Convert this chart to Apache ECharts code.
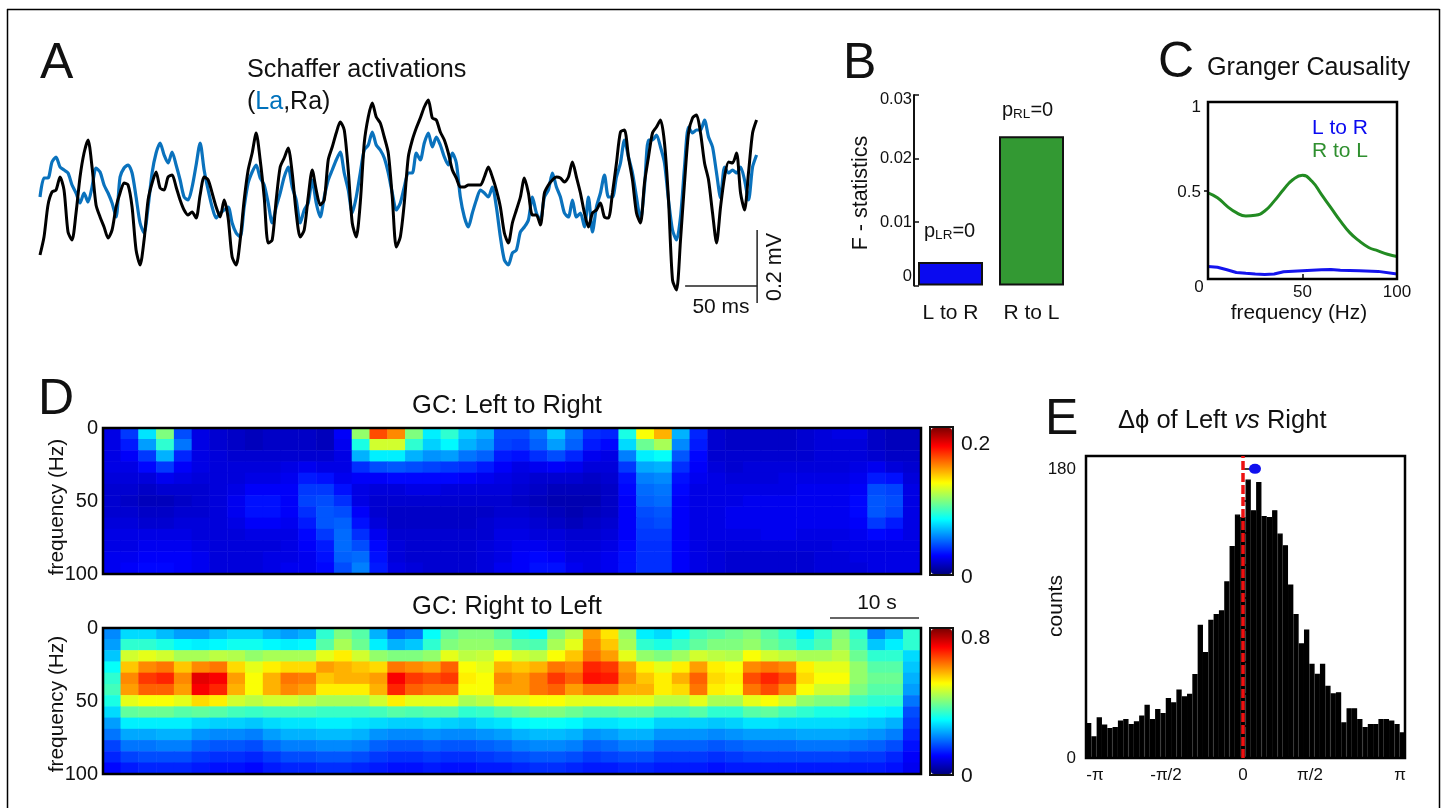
<!DOCTYPE html>
<html><head><meta charset="utf-8">
<style>html,body{margin:0;padding:0;background:#fff}#c{width:1444px;height:808px}</style>
<script src="https://cdn.jsdelivr.net/npm/echarts@6/dist/echarts.min.js"></script>
</head><body><div id="c"></div>
<script>
// ---- Panel A: traces, one reading every traceStepMs; amplitude in trace units (traceUnitsPerMv units = 1 mV)
const traceStepMs = 2.78;
const traceUnitsPerMv = 365;
const rightTrace = [49,67,99,112,114,127,114,72,64,91,127,151,164,137,99,87,77,66,74,97,111,121,119,97,54,39,64,104,121,132,116,114,127,129,117,104,94,89,92,86,109,127,124,111,97,
87,104,86,47,39,64,104,134,151,171,144,107,61,64,104,137,146,156,131,91,67,74,107,134,114,99,104,144,157,171,182,174,134,81,67,101,161,187,201,187,181,167,151,107,57,
67,101,147,164,176,186,197,204,186,184,172,164,151,134,126,117,117,119,119,119,119,127,137,127,114,97,71,61,81,94,107,126,111,89,89,79,111,119,124,127,126,122,127,142,127,
111,91,77,91,94,101,87,86,111,141,172,174,147,124,91,81,121,147,171,177,184,161,104,24,14,64,121,171,186,189,171,141,124,91,61,97,127,142,141,151,111,94,132,171,184];
const leftTrace = [107,126,126,142,147,137,134,131,119,111,101,111,102,117,136,132,119,111,101,87,127,136,139,131,107,81,71,97,131,151,161,149,141,152,139,124,107,104,117,139,161,134,114,97,86,
91,94,97,81,71,67,97,121,132,139,126,119,101,81,97,111,127,137,117,104,81,94,101,124,101,87,107,124,134,144,152,131,114,91,107,131,154,159,172,159,154,146,131,111,94,
101,117,131,131,151,144,161,171,157,167,159,147,139,151,141,107,87,77,91,104,114,111,107,117,97,67,44,39,51,54,72,77,84,107,91,84,107,114,131,117,107,91,87,104,87,
91,77,107,72,97,111,129,107,107,127,141,164,147,131,107,84,117,164,164,169,157,141,104,74,64,87,137,177,171,174,174,184,167,157,131,106,137,131,134,131,137,124,104,137,149];
const scaleBarMs = 50;
const scaleBarMv = 0.2;

// ---- Panel B
const bCategories = ['L to R','R to L'];
const bValues = [0.0037,0.0235];
const bColors = ['#0a0af0','#339933'];

// ---- Panel C: Granger causality spectra
const greenFreq = [0,5,10,15,20,25,30,35,40,45,50,55,60,65,70,75,80,85,90,95,100];
const greenGc = [.487,.459,.412,.375,.356,.36,.384,.44,.506,.562,.586,.552,.478,.403,.328,.262,.215,.178,.159,.14,.127];
const blueFreq = [0,5,10,15,20,25,30,35,40,50,60,65,70,80,90,100];
const blueGc = [.071,.066,.052,.037,.032,.028,.026,.028,.041,.047,.052,.054,.049,.047,.043,.028];

// ---- Panel D: percent of each colour bar's range, rows from 0 Hz down to 100 Hz
const lrMax = 0.228;
const rlMax = 0.865;
const lrRows = [
[10,18,35,50,20,10,8,7,6,7,7,7,6,12,52,80,74,50,36,42,33,30,20,20,24,32,24,17,16,40,62,70,30,16,8,7,7,7,7,8,9,10,10,7,6,6],
[10,15,28,42,24,10,8,7,6,7,7,7,6,11,40,58,58,42,33,37,30,27,19,18,22,28,22,15,13,34,48,54,26,15,8,7,7,7,7,8,9,9,9,7,6,6],
[10,12,18,30,16,10,9,8,8,8,8,8,8,10,30,36,36,30,27,28,24,22,15,14,17,20,16,11,10,25,36,38,21,13,8,8,8,8,8,8,9,9,9,8,7,7],
[10,10,13,18,12,10,9,9,9,9,10,11,10,10,17,20,21,20,19,18,17,15,12,10,11,12,11,9,9,18,29,30,17,12,9,8,9,9,9,9,9,9,10,11,9,8],
[9,9,9,11,10,9,9,9,10,10,11,15,14,11,12,12,13,13,13,13,12,11,10,9,8,8,8,7,8,14,25,26,14,11,10,9,9,9,10,10,10,10,11,15,14,9],
[8,8,7,8,8,8,9,10,12,12,12,18,18,14,10,9,9,10,10,9,9,9,9,8,7,6,6,6,7,13,23,24,13,10,10,10,10,10,10,11,11,11,12,20,19,10],
[8,7,6,6,7,8,9,11,14,14,12,19,20,17,10,8,8,8,8,8,8,8,8,7,6,5,5,5,7,12,22,23,12,10,10,10,11,11,11,11,11,11,13,21,20,10],
[8,8,7,7,8,8,9,11,14,14,12,17,21,20,12,8,7,7,7,7,7,7,8,8,7,6,5,6,7,12,20,21,12,10,10,11,11,11,11,11,11,11,13,21,19,10],
[9,9,8,8,9,9,9,10,12,12,11,15,21,22,14,9,7,7,7,7,7,8,9,9,8,7,6,7,8,12,19,20,12,10,10,11,11,11,11,11,11,11,12,18,15,10],
[10,10,10,10,10,9,9,9,10,10,10,13,18,23,17,11,8,8,8,8,8,8,10,10,9,9,8,8,9,12,18,18,12,10,10,10,10,11,11,10,10,10,11,13,12,10],
[10,10,11,11,11,10,9,9,9,9,10,12,15,23,20,13,9,8,8,8,8,9,10,11,11,10,9,9,10,13,17,17,12,10,9,9,9,9,9,9,9,10,10,10,10,10],
[11,11,12,12,12,11,9,9,9,10,10,11,14,22,23,14,9,8,8,8,8,9,10,12,13,12,10,10,11,14,17,17,12,10,9,8,8,8,8,8,9,9,10,10,10,10],
[11,12,13,13,12,11,9,9,9,10,11,11,13,20,25,15,10,9,8,8,8,9,11,12,14,14,11,10,11,14,17,17,12,10,9,8,8,8,8,8,9,9,9,10,10,10]];
const rlRows = [
[26,34,34,31,28,28,31,33,33,30,28,30,42,50,46,30,22,24,38,47,50,50,46,40,38,50,55,72,65,52,36,34,38,44,46,48,50,46,42,36,42,50,42,25,30,42],
[28,42,42,40,37,36,37,39,39,37,36,37,46,54,48,36,30,32,42,50,52,52,50,46,45,54,60,74,68,54,42,40,43,47,50,50,52,48,45,41,45,52,44,32,36,42],
[32,58,60,58,54,54,56,55,52,54,54,54,60,64,58,52,50,50,52,60,56,57,62,58,56,62,68,76,72,60,52,50,53,58,56,55,62,58,56,54,54,56,48,42,42,34],
[38,68,74,76,68,74,76,66,60,64,66,66,72,70,68,66,76,74,72,78,62,60,70,68,70,76,74,84,82,72,64,60,64,72,64,62,74,76,74,64,60,60,52,46,46,32],
[42,74,82,84,74,90,88,72,62,70,76,75,68,70,70,72,88,82,80,82,64,62,74,72,76,82,78,86,85,74,68,64,70,78,66,64,80,84,80,66,62,62,52,48,48,30],
[44,72,78,78,72,88,84,70,62,70,74,72,64,64,64,70,84,78,76,76,62,62,72,72,76,78,72,76,76,70,70,64,66,76,64,62,76,80,74,62,58,58,50,46,46,28],
[40,60,62,62,60,66,64,58,56,58,58,56,54,54,54,58,64,60,60,60,54,56,60,60,62,62,60,60,60,60,60,56,56,60,54,54,60,62,58,52,50,50,44,42,42,24],
[34,47,48,48,46,47,46,44,43,44,44,44,43,43,43,44,46,45,46,46,42,43,46,48,50,50,48,46,46,47,47,44,44,46,42,42,46,47,44,42,40,40,38,37,36,20],
[28,36,36,36,36,34,33,33,32,34,35,35,36,36,35,34,33,33,34,33,32,34,35,37,38,38,37,35,35,36,36,33,33,33,32,33,35,35,34,34,34,34,33,32,30,18],
[24,29,29,30,30,27,26,26,25,28,30,30,31,31,30,27,26,26,27,26,26,27,28,30,31,31,30,27,28,30,30,27,27,27,26,27,28,28,28,29,29,29,28,27,25,16],
[19,24,24,25,25,22,21,21,20,23,25,25,26,26,25,22,21,21,22,21,21,22,23,25,26,26,25,22,23,25,25,22,22,22,21,22,23,23,23,24,24,24,23,22,20,14],
[16,19,20,20,20,18,17,17,16,18,20,20,21,21,20,18,17,17,18,17,17,18,19,20,21,21,20,18,19,20,20,18,18,18,17,18,19,19,19,19,19,19,18,18,16,12],
[13,15,16,16,16,15,14,14,13,15,16,16,17,17,16,15,14,14,15,14,14,15,15,16,17,17,16,15,15,16,16,15,15,15,14,15,15,15,15,15,15,15,15,15,14,11]];
const jet = ['#00007f','#0000ff','#007fff','#00ffff','#7fff7f','#ffff00','#ff7f00','#ff0000','#7f0000'];

// ---- Panel E: phase difference histogram
const phaseCounts = [21.8,13.5,25.3,20.8,18.7,19.3,23.3,24.3,21.2,22.8,26.4,33.2,24.3,30.5,28,37.4,34.7,42.6,38.4,40,52.3,83,66,86,89.7,92,110,132,151.6,150,173.4,154.3,171.8,150.6,150,154.3,139.8,132.5,108,89.7,71.4,80,58.6,52.5,58.6,45,40.3,41,22.2,31,31,24.3,19.3,21.2,21.2,24.3,24.3,23.3,21.2,16];
const phaseTickPos = [-2.96,-1.54,0,1.34,3.14];
const phaseTickLabels = ['-π','-π/2','0','π/2','π'];
const meanPhase = [[0.24,180]];

// ---- build
const FF = '"Liberation Sans",Arial,sans-serif';
const cellData = (rows,max)=>rows.flatMap((r,j)=>r.map((v,i)=>[i,j,v/100*max]));
const idx = n=>Array.from({length:n},(_,i)=>String(i));
const traceData = a=>a.map((v,i)=>[i*traceStepMs,v]);
const txt = (text,x,y,size,o={})=>({type:'text',x,y,rotation:o.rot||0,z:20,style:Object.assign({text,fontFamily:FF,fontSize:size,fill:o.fill||'#111',align:o.align||'center',verticalAlign:'middle'},o.style||{})});
const hiddenCat = (g,n,extra={})=>Object.assign({type:'category',gridIndex:g,data:idx(n),show:false,boundaryGap:true},extra);
const barEnd = 498;
const richP = {n:{fontFamily:FF,fontSize:20,fill:'#111'},s:{fontFamily:FF,fontSize:13.5,fill:'#111',verticalAlign:'bottom',padding:[8,0,0,0]}};

const graphicTexts = [
 txt('A',40,64,50,{align:'left'}), txt('B',843,64,50,{align:'left'}), txt('C',1158,63,50,{align:'left'}),
 txt('D',38,400,50,{align:'left'}), txt('E',1045,420,50,{align:'left'}),
 txt('Schaffer activations',247,70,25.2,{align:'left'}),
 txt('{k|(}{b|La}{k|,Ra)}',247,102,25,{align:'left',style:{rich:{k:{fontFamily:FF,fontSize:25,fill:'#111'},b:{fontFamily:FF,fontSize:25,fill:'#0072bc'}}}}),
 txt('50 ms',721,307,21), txt('0.2 mV',775,267,21.5,{rot:Math.PI/2}),
 txt('F - statistics',861,193,21.5,{rot:Math.PI/2}),
 txt('{n|p}{s|LR}{n|=0}',924,231,20,{align:'left',style:{rich:richP}}),
 txt('{n|p}{s|RL}{n|=0}',1002,110,20,{align:'left',style:{rich:richP}}),
 txt('Granger Causality',1207,68,25.2,{align:'left'}),
 txt('L to R',1340,128,21,{fill:'#0a0af0'}), txt('R to L',1340,151,21,{fill:'#2f8f2f'}),
 txt('0',1199,287,17), txt('frequency (Hz)',1299,313,20.8),
 txt('GC: Left to Right',507,406,25.5), txt('GC: Right to Left',507,607,25.5),
 txt('frequency (Hz)',57,507,20.8,{rot:Math.PI/2}), txt('frequency (Hz)',57,704,20.8,{rot:Math.PI/2}),
 txt('10 s',877,603,21),
 txt('0.2',961,444,21,{align:'left'}), txt('0',961,577,21,{align:'left'}),
 txt('0.8',961,638,21,{align:'left'}), txt('0',961,776,21,{align:'left'}),
 txt('{n|Δϕ of Left }{i|vs}{n| Right}',1118,421,25.5,{align:'left',style:{rich:{n:{fontFamily:FF,fontSize:25.5,fill:'#111'},i:{fontFamily:FF,fontSize:25.5,fontStyle:'italic',fill:'#111'}}}}),
 txt('counts',1056,606,21,{rot:Math.PI/2}),
];
const lineEl = (x1,y1,x2,y2,w,c)=>({type:'line',z:20,shape:{x1,y1,x2,y2},style:{stroke:c||'#000',lineWidth:w}});

const option = {
 animation:false, backgroundColor:'#fff',
 textStyle:{fontFamily:FF},
 graphic:{elements:[
   lineEl(7,9.5,1439.5,9.5,1.5), lineEl(7.5,9,7.5,808,1.5), lineEl(1439.5,9,1439.5,808,1.5),
   lineEl(830,618,919,618,1.5,'#333'),
   ...graphicTexts]},
 grid:[
  {left:40,top:90,width:720,height:214},
  {left:910,top:95,width:162,height:190.5},
  {left:1208,top:102,width:189,height:177,show:true,borderColor:'#000',borderWidth:2.5,backgroundColor:'transparent',z:5},
  {left:103,top:428,width:818,height:146,show:true,borderColor:'#000',borderWidth:2.5,backgroundColor:'transparent',z:5},
  {left:103,top:628,width:818,height:146,show:true,borderColor:'#000',borderWidth:2.5,backgroundColor:'transparent',z:5},
  {left:1086,top:456,width:319,height:302,show:true,borderColor:'#000',borderWidth:2.5,backgroundColor:'transparent',z:5},
 ],
 xAxis:[
  {type:'value',gridIndex:0,min:0,max:500,show:false},
  {type:'category',gridIndex:1,data:bCategories,axisLine:{show:false},axisTick:{show:false},axisLabel:{color:'#111',fontSize:21,margin:17}},
  {type:'value',gridIndex:2,min:0,max:100,interval:50,splitLine:{show:false},axisLine:{show:false},axisTick:{show:true,inside:true,length:5,lineStyle:{color:'#000',width:1.5}},
   axisLabel:{color:'#111',fontSize:17,margin:5,formatter:v=>v===0?'':String(v)}},
  hiddenCat(3,46), hiddenCat(4,46), hiddenCat(5,60),
  {type:'value',gridIndex:5,position:'bottom',min:-3.14,max:3.24,splitLine:{show:false},axisLine:{show:false},axisTick:{show:false},
   axisLabel:{color:'#111',fontSize:17,margin:9,customValues:phaseTickPos,formatter:v=>phaseTickLabels[phaseTickPos.indexOf(v)]||'',hideOverlap:false,showMinLabel:true,showMaxLabel:true}},
 ],
 yAxis:[
  {type:'value',gridIndex:0,min:0,max:214,show:false},
  {type:'value',gridIndex:1,min:0,max:0.03,offset:-4,splitLine:{show:false},axisLine:{show:true,lineStyle:{color:'#111',width:2}},
   axisTick:{show:true,inside:true,length:5,customValues:[0,0.01,0.02,0.03],lineStyle:{color:'#111',width:1.5}},
   axisLabel:{color:'#111',fontSize:16.5,margin:2,customValues:[0.0015,0.01,0.02,0.0293],formatter:v=>v<0.005?'0':(v>0.025?'0.03':v.toFixed(2))}},
  {type:'value',gridIndex:2,min:0,max:1,splitLine:{show:false},axisLine:{show:false},
   axisTick:{show:true,length:4,customValues:[0.5],lineStyle:{color:'#000',width:1.5}},
   axisLabel:{color:'#111',fontSize:17,margin:7,customValues:[0.49,0.97],formatter:v=>v<0.7?'0.5':'1'}},
  hiddenCat(3,13,{inverse:true}),
  {type:'value',gridIndex:3,position:'left',inverse:true,min:0,max:100,interval:50,splitLine:{show:false},axisLine:{show:false},
   axisTick:{show:true,inside:true,length:8,lineStyle:{color:'#000',width:2},customValues:[50]},axisLabel:{color:'#111',fontSize:20,margin:5}},
  hiddenCat(4,13,{inverse:true}),
  {type:'value',gridIndex:4,position:'left',inverse:true,min:0,max:100,interval:50,splitLine:{show:false},axisLine:{show:false},
   axisTick:{show:true,inside:true,length:8,lineStyle:{color:'#000',width:2},customValues:[50]},axisLabel:{color:'#111',fontSize:20,margin:5}},
  {type:'value',gridIndex:5,min:0,max:188,splitLine:{show:false},axisLine:{show:false},
   axisTick:{show:true,inside:true,length:7,customValues:[20,40,60,80,100,120,140,160,180],lineStyle:{color:'#000',width:1.5}},
   axisLabel:{color:'#111',fontSize:17,margin:10,customValues:[0,180]}},
 ],
 visualMap:[
  {type:'continuous',seriesIndex:7,min:0,max:lrMax,inRange:{color:jet},left:929,top:426,itemWidth:21,itemHeight:146,padding:1,borderColor:'#111',borderWidth:2,calculable:false,showLabel:false,hoverLink:false,text:null},
  {type:'continuous',seriesIndex:8,min:0,max:rlMax,inRange:{color:jet},left:929,top:627,itemWidth:21,itemHeight:145,padding:1,borderColor:'#111',borderWidth:2,calculable:false,showLabel:false,hoverLink:false,text:null},
 ],
 series:[
  {type:'line',xAxisIndex:0,yAxisIndex:0,data:traceData(leftTrace),showSymbol:false,smooth:0.25,lineStyle:{color:'#0a72bd',width:3.2},clip:false,z:2},
  {type:'line',xAxisIndex:0,yAxisIndex:0,data:traceData(rightTrace),showSymbol:false,smooth:0.25,lineStyle:{color:'#000',width:3},clip:false,z:3},
  {type:'line',xAxisIndex:0,yAxisIndex:0,data:[[barEnd-scaleBarMs,scaleBarMv*90],[barEnd,scaleBarMv*90]],showSymbol:false,lineStyle:{color:'#222',width:1.5},clip:false,z:3},
  {type:'line',xAxisIndex:0,yAxisIndex:0,data:[[barEnd,1],[barEnd,1+scaleBarMv*traceUnitsPerMv]],showSymbol:false,lineStyle:{color:'#222',width:1.5},clip:false,z:3},
  {type:'bar',xAxisIndex:1,yAxisIndex:1,barWidth:65,data:bValues.map((v,i)=>({value:v,itemStyle:{color:bColors[i],borderColor:'#111',borderWidth:2}}))},
  {type:'line',xAxisIndex:2,yAxisIndex:2,data:greenFreq.map((f,i)=>[f,greenGc[i]]),smooth:0.5,showSymbol:false,lineStyle:{color:'#228b22',width:3}},
  {type:'line',xAxisIndex:2,yAxisIndex:2,data:blueFreq.map((f,i)=>[f,blueGc[i]]),showSymbol:false,lineStyle:{color:'#1414ee',width:3}},
  {type:'heatmap',xAxisIndex:3,yAxisIndex:3,data:cellData(lrRows,lrMax),progressive:0},
  {type:'heatmap',xAxisIndex:4,yAxisIndex:5,data:cellData(rlRows,rlMax),progressive:0},
  {type:'bar',xAxisIndex:5,yAxisIndex:7,data:phaseCounts,barWidth:'100%',itemStyle:{color:'#000',borderColor:'#000',borderWidth:1.4}},
  {type:'line',xAxisIndex:6,yAxisIndex:7,data:[[0,0],[0,188]],showSymbol:false,lineStyle:{color:'#ee1111',width:3.5,type:[9,3]},z:8},
  {type:'scatter',xAxisIndex:6,yAxisIndex:7,data:meanPhase,symbol:'circle',symbolSize:[12,10],itemStyle:{color:'#1010ee',opacity:1},z:8},
 ]
};
const chart = echarts.init(document.getElementById('c'),null,{renderer:'canvas'});
chart.setOption(option);
</script></body></html>
